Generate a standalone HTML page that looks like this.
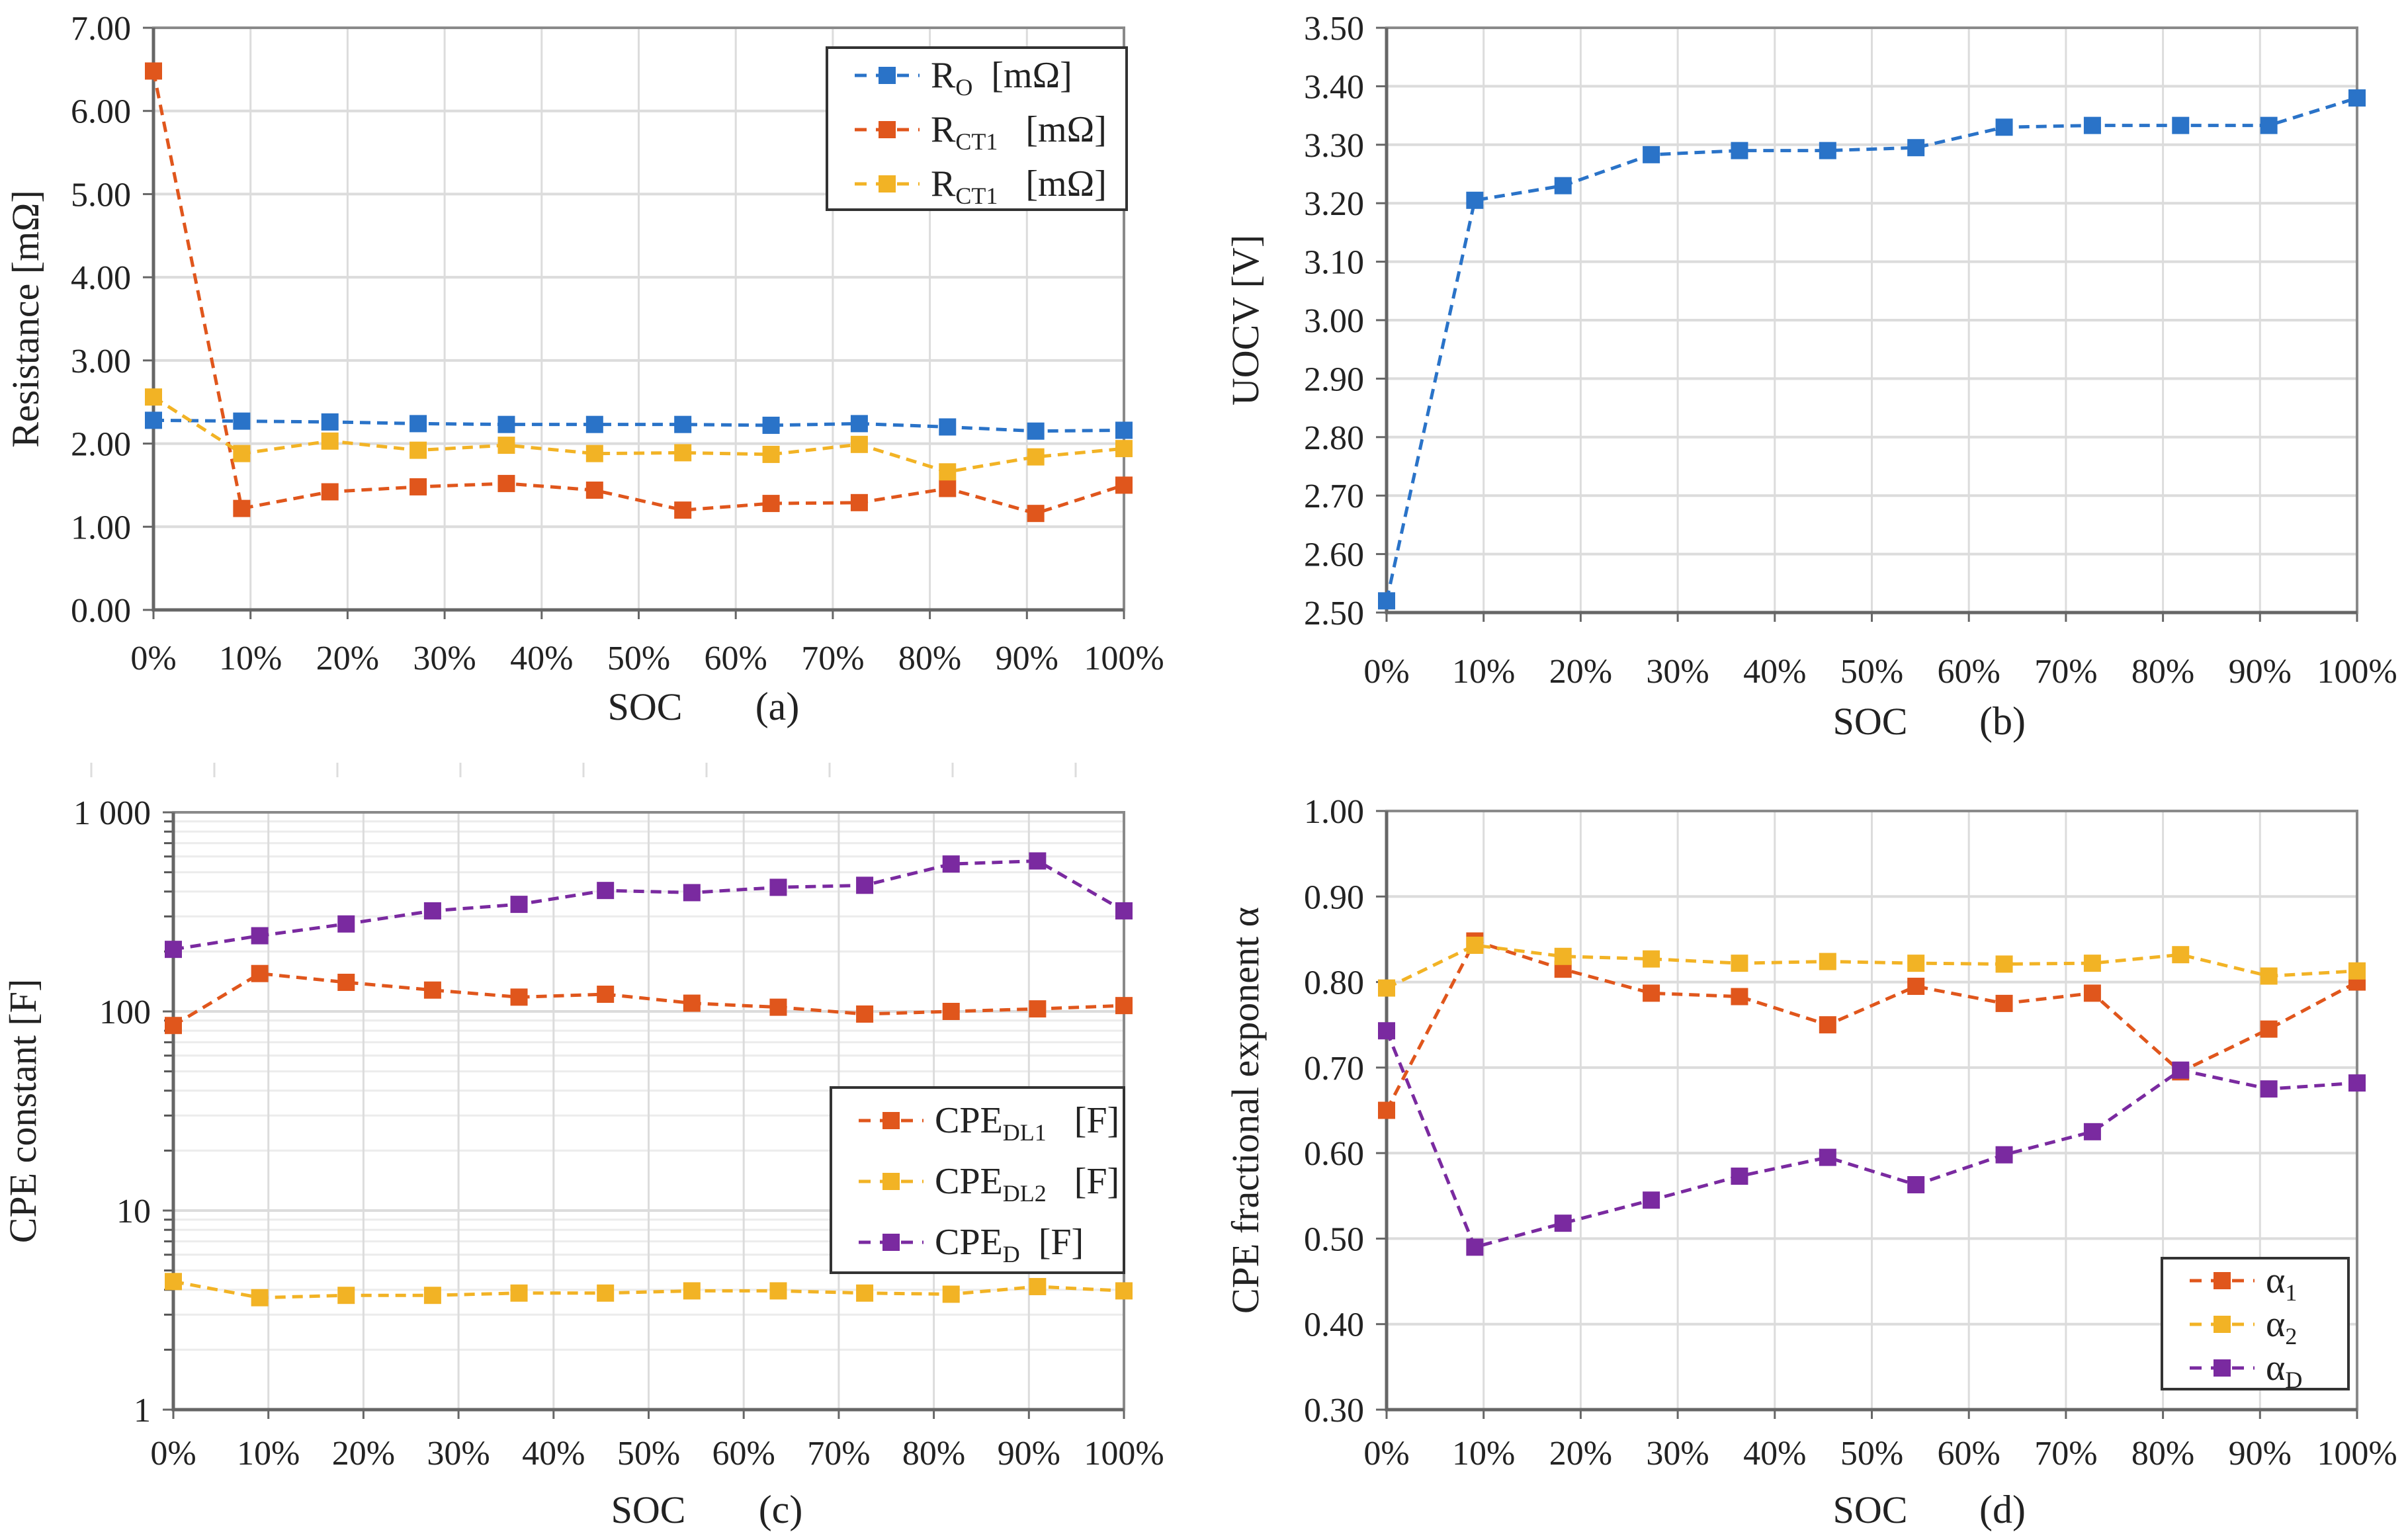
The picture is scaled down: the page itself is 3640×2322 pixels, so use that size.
<!DOCTYPE html>
<html><head><meta charset="utf-8"><style>
html,body{margin:0;padding:0;background:#fff;}
svg{display:block;font-family:"Liberation Serif","DejaVu Serif",serif;}
</style></head><body>
<svg id="fig" width="3640" height="2322" viewBox="0 0 3640 2322" xmlns="http://www.w3.org/2000/svg"></svg>
<script>
const socTicks = ['0%','10%','20%','30%','40%','50%','60%','70%','80%','90%','100%'];
const socPoints = [0,1/11,2/11,3/11,4/11,5/11,6/11,7/11,8/11,9/11,10/11,1];
// (a)
const aR0 = [2.28,2.27,2.26,2.24,2.23,2.23,2.23,2.22,2.24,2.20,2.15,2.16];
const aRct1 = [6.48,1.22,1.42,1.48,1.52,1.44,1.20,1.28,1.29,1.46,1.16,1.50];
const aRct2 = [2.56,1.88,2.03,1.92,1.98,1.88,1.89,1.87,1.99,1.66,1.84,1.94];
const aYTicks = ['0.00','1.00','2.00','3.00','4.00','5.00','6.00','7.00'];
// (b)
const bUocv = [2.52,3.205,3.23,3.283,3.29,3.29,3.295,3.33,3.333,3.333,3.333,3.38];
const bYTicks = ['2.50','2.60','2.70','2.80','2.90','3.00','3.10','3.20','3.30','3.40','3.50'];
// (c)
const cDl1 = [85,155,140,128,118,122,110,105,97,100,103,107];
const cDl2 = [4.4,3.65,3.75,3.75,3.85,3.85,3.95,3.95,3.85,3.8,4.15,3.95];
const cD = [205,240,275,320,345,405,395,420,430,550,570,320];
const cYTicks = ['1','10','100','1 000'];
// (d)
const dA1 = [0.65,0.848,0.815,0.787,0.783,0.75,0.795,0.775,0.787,0.695,0.745,0.80];
const dA2 = [0.793,0.843,0.83,0.827,0.822,0.824,0.822,0.821,0.822,0.832,0.807,0.813];
const dAD = [0.743,0.49,0.518,0.545,0.573,0.595,0.563,0.598,0.625,0.697,0.675,0.682];
const dYTicks = ['0.30','0.40','0.50','0.60','0.70','0.80','0.90','1.00'];

const BLUE='#2a73c8', ORANGE='#e0561c', YELLOW='#f2b325', PURPLE='#7a2aa0';
const svg=document.getElementById('fig');
const NS='http://www.w3.org/2000/svg';
function mk(tag,attrs,parent){const e=document.createElementNS(NS,tag);for(const k in attrs)e.setAttribute(k,attrs[k]);(parent||svg).appendChild(e);return e;}

function chart(o){
  const g=mk('g',{});
  
  
  const L=o.left,R=o.right,T=o.top,B=o.bottom;
  const xs=f=>L+f*(R-L);
  const ys=o.log?(v=>B-(Math.log10(v)-Math.log10(o.ymin))/(Math.log10(o.ymax)-Math.log10(o.ymin))*(B-T))
               :(v=>B-(v-o.ymin)/(o.ymax-o.ymin)*(B-T));
  if(o.log){
    for(let d=1;d<o.ymax;d*=10){for(let m=2;m<10;m++){const y=ys(d*m);
      const ln=mk('line',{x1:L,x2:R,y1:y,y2:y,stroke:'#ececec','stroke-width':3},g);
      
      const tk=mk('line',{x1:L-14,x2:L,y1:y,y2:y,stroke:'#555','stroke-width':3},g);
      }}
  }
  socTicks.forEach((t,i)=>{const x=xs(i/10);
    const ln=mk('line',{x1:x,x2:x,y1:T,y2:B,stroke:'#dcdcdc','stroke-width':3},g);
    
    const tk=mk('line',{x1:x,x2:x,y1:B,y2:B+14,stroke:'#666','stroke-width':3},g);
    
    const tx=mk('text',{x:x,y:o.xLabY,'text-anchor':'middle','font-size':52,fill:'#222'},g);
    tx.textContent=t;
    
  });
  o.yTicks.forEach(t=>{const v=parseFloat(t.replace(/\s/g,''));const y=ys(v);
    const ln=mk('line',{x1:L,x2:R,y1:y,y2:y,stroke:'#dcdcdc','stroke-width':4},g);
    
    const tk=mk('line',{x1:L-16,x2:L,y1:y,y2:y,stroke:'#666','stroke-width':3},g);
    
    const tx=mk('text',{x:L-34,y:y+18,'text-anchor':'end','font-size':52,fill:'#222'},g);
    tx.textContent=t;
    
  });
  const fr=mk('rect',{x:L,y:T,width:R-L,height:B-T,fill:'none',stroke:'#8a8a8a','stroke-width':4},g);
  
  const ax=mk('path',{d:`M${L},${T}V${B}H${R}`,fill:'none',stroke:'#666','stroke-width':5},g);
  
  o.series.forEach(s=>{
    const sg=mk('g',{},g);
    
    
    const pts=s.data.map((v,i)=>[xs(socPoints[i]),ys(v)]);
    const pl=mk('polyline',{points:pts.map(p=>p.join(',')).join(' '),fill:'none',stroke:s.color,'stroke-width':5,'stroke-dasharray':'16,10'},sg);
    
    pts.forEach(p=>{const m=mk('rect',{x:p[0]-13,y:p[1]-13,width:26,height:26,fill:s.color},sg);
      });
  });
  const lg=o.legend;
  const lb=mk('g',{},g);
  
  mk('rect',{x:lg.x,y:lg.y,width:lg.w,height:lg.h,fill:'#fff',stroke:'#333','stroke-width':4},lb);
  o.series.forEach((s,i)=>{const cy=lg.y+lg.first+i*lg.step;
    const eg=mk('g',{},lb);
    
    mk('line',{x1:lg.x+42,x2:lg.x+140,y1:cy,y2:cy,stroke:s.color,'stroke-width':5,'stroke-dasharray':'18,14'},eg);
    mk('rect',{x:lg.x+78,y:cy-13,width:26,height:26,fill:s.color},eg);
    const t=mk('text',{x:lg.x+157,y:cy+18,'font-size':lg.fs,fill:'#222'},eg);
    t.innerHTML=s.label;
  });
  const yt=mk('text',{x:0,y:0,'text-anchor':'middle','font-size':58,fill:'#222',transform:`translate(${o.yTitleX},${(T+B)/2}) rotate(-90)`},g);
  yt.textContent=o.yTitle;
  
  const xt=mk('text',{x:o.socX,y:o.socY,'text-anchor':'middle','font-size':58,fill:'#222'},g);
  xt.textContent='SOC';
  
  const pt=mk('text',{x:o.socX+200,y:o.socY,'text-anchor':'middle','font-size':60,fill:'#222'},g);
  pt.textContent=o.panel;
  
}
const sub=(b,s)=>`${b}<tspan font-size="36" dy="12">${s}</tspan><tspan dy="-12">\u00a0</tspan>`;
chart({name:'chart-a',left:232,right:1699,top:42,bottom:922,ymin:0,ymax:7,yTicks:aYTicks,xLabY:1012,
  yTitle:'Resistance [mΩ]',yTitleX:58,socX:975,socY:1088,panel:'(a)',
  series:[{name:'series-r0',data:aR0,color:BLUE,label:sub('R','O')+'\u00a0[mΩ]'},
          {name:'series-rct1',data:aRct1,color:ORANGE,label:sub('R','CT1')+'\u00a0\u00a0[mΩ]'},
          {name:'series-rct2',data:aRct2,color:YELLOW,label:sub('R','CT1')+'\u00a0\u00a0[mΩ]'}],
  legend:{x:1250,y:72,w:453,h:245,first:42,step:82,fs:56}});
chart({name:'chart-b',left:2096,right:3563,top:42,bottom:926,ymin:2.5,ymax:3.5,yTicks:bYTicks,xLabY:1032,
  yTitle:'UOCV [V]',yTitleX:1902,socX:2827,socY:1110,panel:'(b)',
  series:[{name:'series-uocv',data:bUocv,color:BLUE,label:''}],
  legend:{x:-1000,y:-1000,w:1,h:1,first:0,step:0,fs:1}});
chart({name:'chart-c',left:262,right:1699,top:1228,bottom:2131,ymin:1,ymax:1000,log:true,yTicks:cYTicks,xLabY:2214,
  yTitle:'CPE constant [F]',yTitleX:54,socX:980,socY:2302,panel:'(c)',
  series:[{name:'series-cpe-dl1',data:cDl1,color:ORANGE,label:sub('CPE','DL1')+'\u00a0\u00a0[F]'},
          {name:'series-cpe-dl2',data:cDl2,color:YELLOW,label:sub('CPE','DL2')+'\u00a0\u00a0[F]'},
          {name:'series-cpe-d',data:cD,color:PURPLE,label:sub('CPE','D')+'\u00a0[F]'}],
  legend:{x:1256,y:1644,w:443,h:280,first:50,step:92,fs:56}});
chart({name:'chart-d',left:2096,right:3563,top:1226,bottom:2131,ymin:0.3,ymax:1.0,yTicks:dYTicks,xLabY:2214,
  yTitle:'CPE fractional exponent α',yTitleX:1902,socX:2827,socY:2302,panel:'(d)',
  series:[{name:'series-alpha1',data:dA1,color:ORANGE,label:sub('α','1')},
          {name:'series-alpha2',data:dA2,color:YELLOW,label:sub('α','2')},
          {name:'series-alphad',data:dAD,color:PURPLE,label:sub('α','D')}],
  legend:{x:3268,y:1902,w:282,h:198,first:34,step:66,fs:56}});
for(let i=0;i<9;i++){const l=mk('line',{x1:138+i*186,x2:138+i*186,y1:1153,y2:1175,stroke:'#ddd','stroke-width':3});
  }
</script>
</body></html>
